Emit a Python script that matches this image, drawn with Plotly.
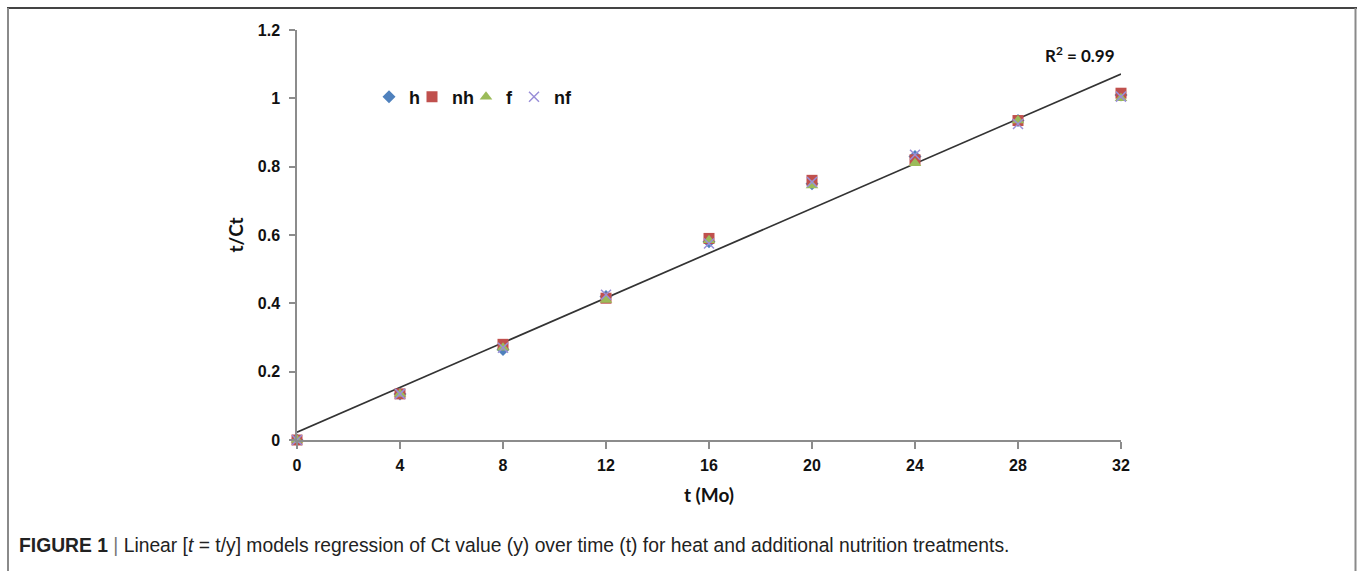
import numpy as np
import plotly.graph_objects as go

# Sampling months
months = [0, 4, 8, 12, 16, 20, 24, 28, 32]

# t/Ct for each treatment
h_vals = [0.0, 0.135, 0.265, 0.42, 0.58, 0.75, 0.83, 0.935, 1.01]
nh_vals = [0.0, 0.135, 0.28, 0.415, 0.59, 0.76, 0.82, 0.935, 1.015]
f_vals = [0.0, 0.135, 0.27, 0.41, 0.585, 0.745, 0.81, 0.935, 1.0]
nf_vals = [0.0, 0.135, 0.27, 0.425, 0.575, 0.755, 0.835, 0.925, 1.005]

series_names = ["h", "nh", "f", "nf"]
series_vals = [h_vals, nh_vals, f_vals, nf_vals]
series_colors = ["#4F81BD", "#C0504D", "#9BBB59", "#9A8FD8"]
series_symbols = ["diamond", "square", "triangle-up", "x-thin"]
series_sizes = [10, 11, 11, 10]

x_ticks = [0, 4, 8, 12, 16, 20, 24, 28, 32]
y_ticks = [0, 0.2, 0.4, 0.6, 0.8, 1, 1.2]
y_tick_text = ["0", "0.2", "0.4", "0.6", "0.8", "1", "1.2"]

caption = ("<b>FIGURE 1</b> <span style='color:#777'>|</span> Linear [<i>t</i> = t/y] models regression of Ct value (y) "
           "over time (t) for heat and additional nutrition treatments.")

# Pooled linear fit over every treatment
all_x = np.tile(months, len(series_vals))
all_y = np.concatenate(series_vals)
slope, intercept = np.polyfit(all_x, all_y, 1)
pred = slope * all_x + intercept
r2 = 1 - np.sum((all_y - pred) ** 2) / np.sum((all_y - all_y.mean()) ** 2)

W, H = 1357, 571
L, R, T, B = 297, 236, 30, 131
pw, ph = W - L - R, H - T - B


def px_x(p):
    return (p - L) / pw


def px_y(p):
    return (H - B - p) / ph


fig = go.Figure()

fig.add_trace(go.Scatter(
    x=[months[0], months[-1]],
    y=[intercept + slope * months[0], intercept + slope * months[-1]],
    mode="lines", line=dict(color="#333333", width=1.7),
    showlegend=False, hoverinfo="skip", cliponaxis=False,
))

# one small legend box per treatment, laid out in a row
legend_ids = ["legend", "legend2", "legend3", "legend4"]
legend_left = [369, 412, 466, 514]

for name, vals, col, sym, sz, lid in zip(series_names, series_vals, series_colors,
                                         series_symbols, series_sizes, legend_ids):
    marker = dict(color=col, symbol=sym, size=sz)
    if sym == "x-thin":
        marker["line"] = dict(color=col, width=1.5)
    fig.add_trace(go.Scatter(
        x=months, y=vals, mode="markers", name=name, legend=lid,
        marker=marker, cliponaxis=False,
    ))

# Outer frame
fig.add_shape(type="line", xref="paper", yref="paper",
              x0=px_x(7), x1=px_x(1357), y0=px_y(8), y1=px_y(8),
              line=dict(color="#444444", width=2))
fig.add_shape(type="line", xref="paper", yref="paper",
              x0=px_x(8), x1=px_x(8), y0=px_y(8), y1=px_y(580),
              line=dict(color="#8a8a8a", width=2))
fig.add_shape(type="line", xref="paper", yref="paper",
              x0=px_x(1355.5), x1=px_x(1355.5), y0=px_y(8), y1=px_y(580),
              line=dict(color="#8a8a8a", width=2))

fig.add_annotation(
    x=30.4, y=1.128, xref="x", yref="y",
    text=f"<b>R<sup>2</sup> = {r2:.2f}</b>", showarrow=False,
    font=dict(family="Lato, Carlito, sans-serif", size=17, color="#111"),
)

fig.add_annotation(
    x=px_x(17), y=px_y(545), xref="paper", yref="paper",
    xanchor="left", yanchor="middle", text=caption, showarrow=False,
    font=dict(family="Liberation Sans, Arial, sans-serif", size=19.3, color="#222"),
)

legend_font = dict(family="Liberation Sans, Arial, sans-serif", size=18, color="#111", weight="bold")
legend_layout = {}
for lid, left in zip(legend_ids, legend_left):
    legend_layout[lid] = dict(
        orientation="h", x=px_x(left), y=px_y(97), xanchor="left", yanchor="middle",
        font=legend_font, itemwidth=30, bgcolor="rgba(0,0,0,0)",
    )

fig.update_layout(
    width=W, height=H,
    margin=dict(l=L, r=R, t=T, b=B, pad=0),
    paper_bgcolor="white", plot_bgcolor="white",
    showlegend=True,
    **legend_layout,
    xaxis=dict(
        range=[0, 32], tickvals=x_ticks, showgrid=False, zeroline=False,
        showline=True, linecolor="#8c8c8c", linewidth=1.5,
        ticks="outside", ticklen=7, tickcolor="#8c8c8c", tickwidth=1.5,
        ticklabelstandoff=3,
        tickfont=dict(family="Liberation Sans, Arial, sans-serif", size=16, color="#111", weight="bold"),
        title=dict(text="<b>t (Mo)</b>", standoff=16,
                   font=dict(family="Lato, Carlito, sans-serif", size=19, color="#111")),
    ),
    yaxis=dict(
        range=[0, 1.2], tickvals=y_ticks, ticktext=y_tick_text, showgrid=False, zeroline=False,
        showline=True, linecolor="#8c8c8c", linewidth=1.5,
        ticks="outside", ticklen=6, tickcolor="#8c8c8c", tickwidth=1.5,
        ticklabelstandoff=6,
        tickfont=dict(family="Liberation Sans, Arial, sans-serif", size=16, color="#111", weight="bold"),
        title=dict(text="<b>t/Ct</b>", standoff=9,
                   font=dict(family="Lato, Carlito, sans-serif", size=19, color="#111")),
    ),
)

fig.write_html("out.html")
